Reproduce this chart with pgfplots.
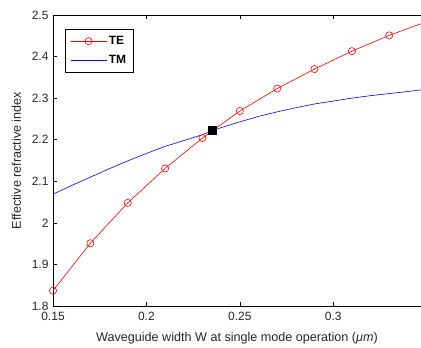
\documentclass[border=0pt]{standalone}
\usepackage{pgfplots}
\pgfplotsset{compat=1.18}
\usetikzlibrary{calc}
\usepackage{fontspec}
\setmainfont{Liberation Sans}
\begin{document}
\begin{tikzpicture}[x=1pt,y=1pt]
\begin{axis}[
  name=ax,
  scale only axis,
  width=368pt, height=291pt,
  xmin=0.15, xmax=0.347,
  ymin=1.8, ymax=2.5,
  axis x line=box, axis y line=left,
  axis line style={-, black, line width=0.6pt},
  xtick={0.15,0.2,0.25,0.3},
  xticklabels={0.15,0.2,0.25,0.3},
  ytick={1.8,1.9,2,2.1,2.2,2.3,2.4,2.5},
  yticklabels={1.8,1.9,2,2.1,2.2,2.3,2.4,2.5},
  tick align=inside,
  major tick length=4pt,
  tick style={black, line width=0.5pt},
  ticklabel style={font=\fontsize{12}{14}\selectfont, text=black!85},
  xticklabel style={yshift=-3pt},
  yticklabel style={xshift=-1pt},
  xlabel={Waveguide width W at single mode operation (\textit{μm})},
  ylabel={Effective refractive index},
  label style={font=\fontsize{12.6}{14}\selectfont, text=black!85},
  xlabel style={yshift=-4pt},
  ylabel style={yshift=4pt},
  legend style={at={(rel axis cs:0,1)}, anchor=north west, xshift=12pt, yshift=-14pt,
    draw=black, line width=0.6pt, font=\fontsize{12}{14}\selectfont\bfseries,
    inner xsep=5pt, inner ysep=5pt, row sep=5pt},
  legend cell align=left,
  legend image code/.code={
    \draw[#1] (0pt,0pt) -- (36pt,0pt);
    \draw[#1,only marks] plot coordinates {(18pt,0pt)};
  },
  clip=true,
]
\addplot[red, line width=0.6pt, mark=o, mark size=3.6pt, mark options={solid, line width=0.6pt}]
coordinates {
(0.15,1.837) (0.17,1.951) (0.19,2.048) (0.21,2.131) (0.23,2.204)
(0.25,2.269) (0.27,2.323) (0.29,2.370) (0.31,2.413) (0.33,2.451)
};
\addlegendentry{TE}
\addplot[red, line width=0.6pt, forget plot]
coordinates {(0.33,2.451) (0.347,2.479)};
\addplot[blue, line width=0.6pt]
coordinates {
(0.15,2.069) (0.16,2.090) (0.17,2.110) (0.18,2.130) (0.19,2.149)
(0.20,2.167) (0.21,2.184) (0.22,2.198) (0.23,2.212) (0.235,2.221)
(0.24,2.229) (0.25,2.243) (0.26,2.256) (0.27,2.267) (0.28,2.277)
(0.29,2.286) (0.30,2.293) (0.31,2.300) (0.32,2.306) (0.33,2.311)
(0.34,2.316) (0.347,2.320)
};
\addlegendentry{TM}
\addplot[black, only marks, mark=square*, mark size=4pt, forget plot, clip=false]
coordinates {(0.235,2.222)};
\end{axis}
\pgfresetboundingbox
\useasboundingbox ($(ax.south west)+(-53pt,-42pt)$) rectangle ($(ax.north east)+(0pt,15pt)$);
\end{tikzpicture}
\end{document}
